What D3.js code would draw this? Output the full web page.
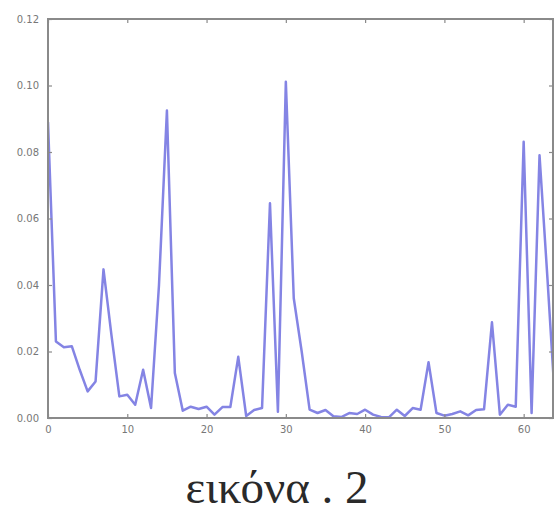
<!DOCTYPE html>
<html>
<head>
<meta charset="utf-8">
<script src="https://cdn.jsdelivr.net/npm/d3@7"></script>
<style>
  body { margin: 0; background: #fff; }
  svg { display: block; }
</style>
</head>
<body>
<svg id="chart" width="555" height="517"></svg>
<script>
// values, one per index 0..64
const values = [
  0.089, 0.023, 0.0213, 0.0216, 0.0145, 0.008, 0.011, 0.0447, 0.025, 0.0065,
  0.007, 0.004, 0.0145, 0.003, 0.04, 0.0925, 0.0135, 0.0022, 0.0034, 0.0027,
  0.0034, 0.001, 0.0033, 0.0033, 0.0184, 0.0006, 0.0024, 0.003, 0.0646, 0.0019,
  0.1011, 0.036, 0.02, 0.0025, 0.0015, 0.0024, 0.0005, 0.0003, 0.0015, 0.0012,
  0.0025, 0.001, 0.0003, 0.0002, 0.0025, 0.0006, 0.003, 0.0025, 0.0168, 0.0015,
  0.0007, 0.0012, 0.002, 0.0008, 0.0024, 0.0026, 0.0288, 0.001, 0.004, 0.0034,
  0.0831, 0.0015, 0.079, 0.042, 0.003
];
const xTicks = [0, 10, 20, 30, 40, 50, 60];
const yTicks = [0, 0.02, 0.04, 0.06, 0.08, 0.10, 0.12];
const caption = "εικόνα . 2";

const svg = d3.select("#chart");
const plotLeft = 48, plotRight = 553, plotTop = 19, plotBottom = 418;

const x = d3.scaleLinear().domain([0, 63.7]).range([plotLeft, plotRight]);
const y = d3.scaleLinear().domain([0, 0.12]).range([plotBottom, plotTop]);

svg.append("defs").append("clipPath").attr("id", "plot")
  .append("rect")
  .attr("x", plotLeft).attr("y", plotTop)
  .attr("width", plotRight - plotLeft).attr("height", plotBottom - plotTop);

const line = d3.line()
  .x((d, i) => x(i))
  .y(d => y(d));

svg.append("path")
  .datum(values)
  .attr("clip-path", "url(#plot)")
  .attr("fill", "none")
  .attr("stroke", "#8484e4")
  .attr("stroke-width", 2.5)
  .attr("stroke-linejoin", "round")
  .attr("d", line);

// axes with inward ticks on all four sides
const tickColor = "#8a8a8a";
function styleAxis(g) {
  g.select(".domain").remove();
  g.selectAll(".tick line").attr("stroke", tickColor).attr("stroke-width", 1.2);
  g.selectAll(".tick text")
    .attr("fill", "#777")
    .style("font-family", "DejaVu Sans")
    .style("font-size", "10px");
}

svg.append("g")
  .attr("transform", `translate(0,${plotBottom})`)
  .call(d3.axisBottom(x).tickValues(xTicks).tickSize(-4).tickPadding(8)
    .tickFormat(d3.format("d")))
  .call(styleAxis);

svg.append("g")
  .attr("transform", `translate(0,${plotTop})`)
  .call(d3.axisTop(x).tickValues(xTicks).tickSize(-4).tickFormat(""))
  .call(styleAxis);

svg.append("g")
  .attr("transform", `translate(${plotLeft},0)`)
  .call(d3.axisLeft(y).tickValues(yTicks).tickSize(-4).tickPadding(9)
    .tickFormat(d3.format(".2f")))
  .call(styleAxis);

svg.append("g")
  .attr("transform", `translate(${plotRight},0)`)
  .call(d3.axisRight(y).tickValues(yTicks).tickSize(-4).tickFormat(""))
  .call(styleAxis);

svg.append("rect")
  .attr("x", plotLeft).attr("y", plotTop)
  .attr("width", plotRight - plotLeft).attr("height", plotBottom - plotTop)
  .attr("fill", "none")
  .attr("stroke", tickColor)
  .attr("stroke-width", 2);

svg.append("text")
  .attr("x", 277)
  .attr("y", 503)
  .attr("text-anchor", "middle")
  .attr("fill", "#2a2a2a")
  .style("font-family", "Liberation Serif")
  .style("font-size", "47px")
  .text(caption);
</script>
</body>
</html>
